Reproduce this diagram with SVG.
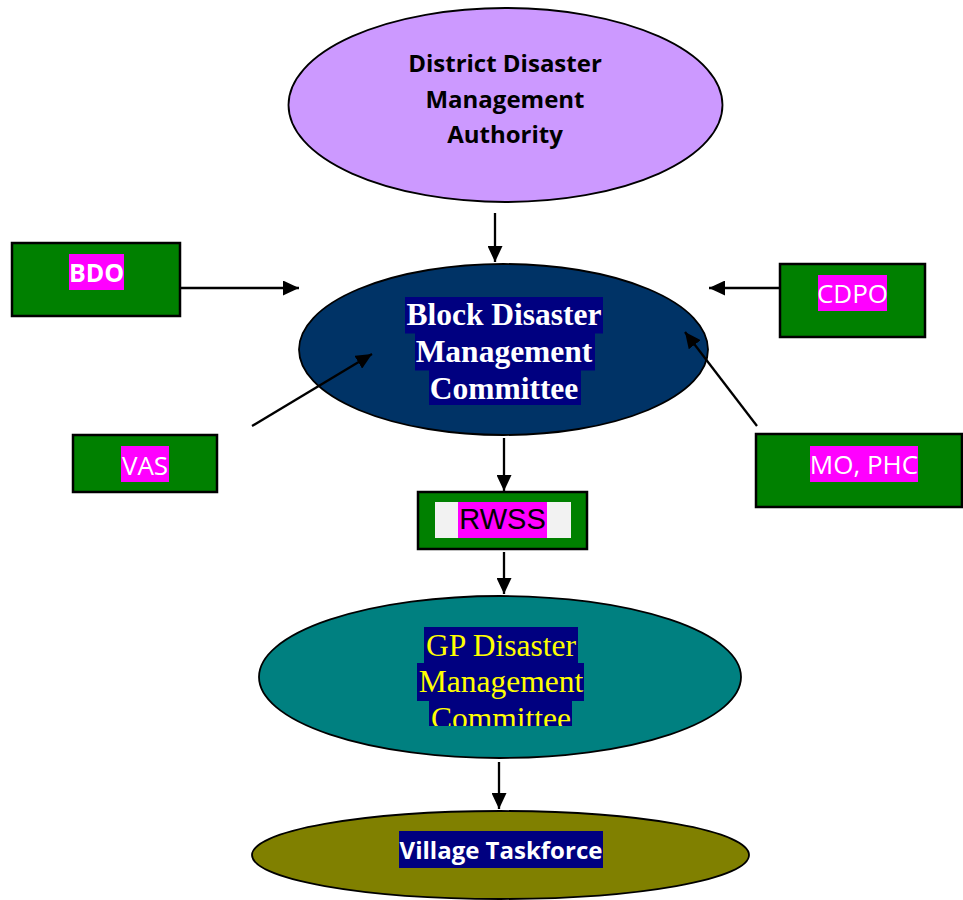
<svg xmlns="http://www.w3.org/2000/svg" width="963" height="900" viewBox="0 0 963 900">
<defs>
<style>
.box{fill:#008000;stroke:#000;stroke-width:2.5}
.ell{stroke:#000;stroke-width:1.8}
.hlm{fill:#FF00FF}
.hln{fill:#000080}
.sansb{font-family:"Open Sans","Liberation Sans",sans-serif;font-weight:bold}
.sans{font-family:"Open Sans","Liberation Sans",sans-serif}
.serif{font-family:"Liberation Serif","Times New Roman",serif}
.conn line{stroke:#000;stroke-width:2.3;marker-end:url(#ah)}
</style>
<marker id="ah" markerWidth="16" markerHeight="15" refX="16" refY="7.5" orient="auto" markerUnits="userSpaceOnUse">
<path d="M0,0 L16,7.5 L0,15 z" fill="#000"/>
</marker>
<clipPath id="gpclip"><rect x="380" y="620" width="240" height="106"/></clipPath>
</defs>
<rect width="963" height="900" fill="#fff"/>

<g id="ddma">
<ellipse class="ell" cx="505.5" cy="105" rx="217" ry="97" fill="#CC99FF"/>
<g class="sansb" font-size="24" fill="#000" text-anchor="middle">
<text x="505" y="72">District Disaster</text>
<text x="505" y="107.5">Management</text>
<text x="505" y="143">Authority</text>
</g>
</g>

<g id="bdmc">
<ellipse class="ell" cx="503.5" cy="349.5" rx="204.5" ry="85.5" fill="#003366"/>
<rect class="hln" x="405" y="297" width="198" height="36.5"/>
<rect class="hln" x="415" y="333" width="180" height="37.5"/>
<rect class="hln" x="429" y="370" width="152" height="35"/>
<g class="serif" font-size="31.5" font-weight="bold" fill="#fff" text-anchor="middle">
<text x="504" y="325">Block Disaster</text>
<text x="504" y="362">Management</text>
<text x="504" y="399">Committee</text>
</g>
</g>

<g id="bdo">
<rect class="box" x="12" y="243" width="168" height="73"/>
<rect class="hlm" x="69" y="254" width="55" height="36"/>
<text class="sansb" x="96.5" y="282" font-size="25" fill="#fff" text-anchor="middle">BDO</text>
</g>

<g id="vas">
<rect class="box" x="73" y="435" width="144" height="57"/>
<rect class="hlm" x="121" y="446" width="48" height="36"/>
<text class="sans" x="145" y="475" font-size="26" fill="#fff" text-anchor="middle">VAS</text>
</g>

<g id="cdpo">
<rect class="box" x="780" y="264" width="145" height="73"/>
<rect class="hlm" x="818" y="275" width="69" height="36"/>
<text class="sans" x="852.5" y="303" font-size="26" fill="#fff" text-anchor="middle">CDPO</text>
</g>

<g id="mophc">
<rect class="box" x="756" y="434" width="206" height="73"/>
<rect class="hlm" x="810" y="446" width="108" height="36"/>
<text class="sans" x="864" y="474" font-size="26" fill="#fff" text-anchor="middle">MO, PHC</text>
</g>

<g id="rwss">
<rect class="box" x="418" y="492" width="169" height="57"/>
<rect x="435" y="502" width="136" height="36" fill="#F2F2F2"/>
<rect class="hlm" x="458" y="502" width="89" height="36"/>
<text x="502.5" y="529" font-family="'Liberation Sans',Arial,sans-serif" font-size="29" fill="#000" text-anchor="middle">RWSS</text>
</g>

<g id="gpdmc">
<ellipse class="ell" cx="500" cy="677" rx="241" ry="81" fill="#008080"/>
<g clip-path="url(#gpclip)">
<rect class="hln" x="424" y="627" width="154" height="36"/>
<rect class="hln" x="417" y="663" width="167" height="38"/>
<rect class="hln" x="429" y="701" width="143" height="36"/>
<g class="serif" font-size="31.5" fill="#FFFF00" text-anchor="middle">
<text x="501" y="656">GP Disaster</text>
<text x="501" y="692">Management</text>
<text x="501" y="729">Committee</text>
</g>
</g>
</g>

<g id="village">
<ellipse class="ell" cx="500.5" cy="855" rx="248.5" ry="44" fill="#808000"/>
<rect class="hln" x="399" y="831" width="204" height="37"/>
<text class="sansb" x="501" y="859" font-size="24" fill="#fff" text-anchor="middle">Village Taskforce</text>
</g>

<g id="connectors" class="conn">
<line x1="495" y1="213" x2="495" y2="262"/>
<line x1="180" y1="288" x2="299" y2="288"/>
<line x1="780" y1="288" x2="709" y2="288"/>
<line x1="252" y1="426" x2="372" y2="354"/>
<line x1="757" y1="426" x2="685" y2="332"/>
<line x1="504" y1="438" x2="504" y2="491"/>
<line x1="504" y1="552" x2="504" y2="594"/>
<line x1="499" y1="762" x2="499" y2="809"/>
</g>
</svg>
